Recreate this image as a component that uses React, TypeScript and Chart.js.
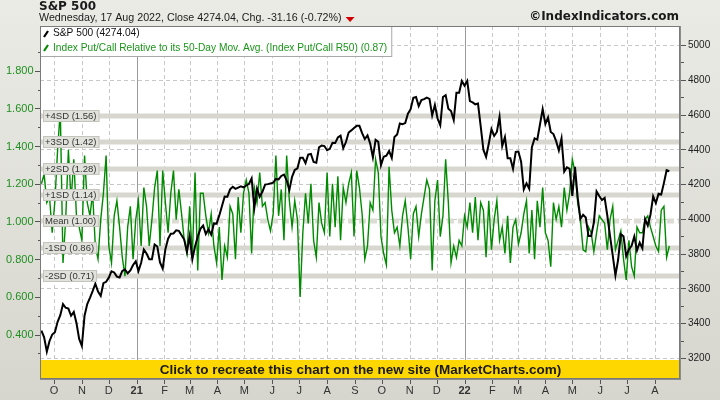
import React, { useEffect, useRef } from 'react';
import { Chart, registerables } from 'chart.js';

Chart.register(...registerables);

// Sampled every SAMPLE_STEP_DAYS calendar days starting at SAMPLE_START
const SAMPLE_START = '2020-09-17';
const SAMPLE_STEP_DAYS = 3;

const spx = [
  3357, 3319, 3237, 3298, 3335, 3348, 3408, 3446, 3510, 3489,
  3484, 3443, 3465, 3401, 3310, 3270, 3443, 3510, 3546, 3585,
  3627, 3582, 3557, 3630, 3638, 3662, 3699, 3692, 3668, 3663,
  3701, 3709, 3687, 3703, 3735, 3756, 3700, 3748, 3824, 3801,
  3768, 3768, 3853, 3841, 3750, 3714, 3826, 3886, 3915, 3916,
  3934, 3931, 3906, 3881, 3811, 3901, 3768, 3842, 3898, 3943,
  3962, 3913, 3940, 3909, 3974, 3973, 4020, 4074, 4129, 4128,
  4170, 4185, 4173, 4180, 4187, 4181, 4192, 4201, 4233, 4063,
  4174, 4127, 4156, 4197, 4200, 4204, 4208, 4230, 4227, 4247,
  4255, 4222, 4166, 4242, 4281, 4291, 4352, 4352, 4321, 4370,
  4374, 4327, 4323, 4411, 4422, 4419, 4395, 4403, 4437, 4436,
  4468, 4479, 4406, 4442, 4497, 4509, 4523, 4535, 4535, 4493,
  4459, 4480, 4433, 4354, 4455, 4443, 4308, 4357, 4363, 4391,
  4351, 4471, 4486, 4549, 4545, 4551, 4605, 4631, 4697, 4701,
  4649, 4683, 4689, 4698, 4690, 4595, 4655, 4577, 4538, 4701,
  4712, 4634, 4620, 4568, 4726, 4726, 4793, 4766, 4794, 4677,
  4670, 4659, 4663, 4533, 4398, 4357, 4432, 4516, 4477, 4500,
  4587, 4419, 4471, 4349, 4349, 4288, 4385, 4387, 4329, 4170,
  4204, 4173, 4412, 4463, 4456, 4543, 4631, 4546, 4583, 4500,
  4488, 4447, 4393, 4463, 4272, 4297, 4288, 4132, 4300, 4123,
  4001, 4023, 4008, 3901, 3901, 3979, 4158, 4132, 4109, 4121,
  4018, 3901, 3790, 3675, 3765, 3912, 3900, 3785, 3825, 3845,
  3899, 3819, 3863, 3831, 3999, 3962, 4024, 4130, 4091, 4145,
  4140, 4207, 4280, 4274,
];

const putCallR50 = [
  1.20, 1.25, 1.10, 1.13, 0.94, 1.11, 1.38, 1.59, 0.78, 1.01,
  1.38, 1.11, 1.33, 1.03, 0.97, 0.90, 1.35, 1.10, 1.03, 1.15,
  0.87, 0.80, 1.01, 1.15, 1.35, 0.87, 0.78, 1.03, 1.11, 0.97,
  0.81, 0.71, 0.97, 1.08, 0.80, 1.01, 1.11, 0.87, 1.18, 1.08,
  0.87, 1.01, 1.18, 1.27, 0.87, 1.27, 1.10, 0.94, 1.15, 1.27,
  1.01, 1.17, 1.04, 0.90, 0.83, 1.08, 0.81, 1.26, 0.74, 1.15,
  1.15, 1.03, 0.94, 1.04, 0.87, 0.78, 0.97, 0.69, 0.87, 0.81,
  1.08, 1.04, 0.80, 1.13, 0.94, 1.15, 1.22, 1.15, 0.83, 1.18,
  1.10, 1.26, 1.08, 1.10, 1.01, 0.95, 1.04, 1.35, 1.03, 1.17,
  0.90, 1.35, 1.11, 0.97, 1.11, 1.01, 0.60, 0.94, 1.15, 0.99,
  1.20, 0.90, 0.81, 1.10, 0.99, 0.94, 1.26, 0.92, 1.20, 0.97,
  1.24, 0.90, 1.18, 1.10, 1.20, 1.26, 0.92, 1.27, 1.18,
  1.04, 0.80, 0.87, 1.10, 1.06, 1.33, 1.26, 0.92, 0.83, 0.77,
  1.29, 1.06, 0.94, 0.97, 0.87, 1.03, 1.11, 0.97, 0.80, 1.04,
  1.08, 0.92, 1.04, 1.13, 1.22, 1.17, 0.74, 1.11, 1.22, 0.92,
  1.03, 1.33, 1.10, 0.78, 0.87, 0.81, 0.90, 0.87, 1.03, 0.97,
  1.10, 0.94, 1.13, 0.90, 1.10, 1.06, 0.81, 1.11, 0.85, 1.01,
  1.11, 0.90, 0.97, 0.83, 1.03, 0.78, 0.97, 1.01, 0.88,
  0.94, 1.04, 1.11, 0.83, 1.06, 0.80, 1.11, 0.97, 1.18, 0.94,
  0.90, 0.76, 1.10, 1.01, 1.08, 0.97, 1.18, 1.06, 1.15, 1.33,
  1.26, 1.10, 1.01, 0.85, 0.84, 0.97, 0.94, 0.84, 0.94, 1.03,
  1.01, 0.99, 0.85, 1.01, 1.08, 0.85, 0.90, 0.95, 0.80, 0.69,
  0.90, 0.76, 0.71, 0.97, 0.94, 0.94, 1.01, 1.03, 0.97, 0.92,
  0.87, 0.84, 1.06, 1.08, 0.81, 0.87,
];

const monthStarts = [
  '2020-10-01', '2020-11-01', '2020-12-01', '2021-01-01', '2021-02-01', '2021-03-01',
  '2021-04-01', '2021-05-01', '2021-06-01', '2021-07-01', '2021-08-01', '2021-09-01',
  '2021-10-01', '2021-11-01', '2021-12-01', '2022-01-01', '2022-02-01', '2022-03-01',
  '2022-04-01', '2022-05-01', '2022-06-01', '2022-07-01', '2022-08-01',
];
const monthLabels = ['O', 'N', 'D', '21', 'F', 'M', 'A', 'M', 'J', 'J', 'A', 'S', 'O', 'N', 'D', '22', 'F', 'M', 'A', 'M', 'J', 'J', 'A'];

const leftTicks = [0.4, 0.6, 0.8, 1.0, 1.2, 1.4, 1.6, 1.8];
const leftTickLabels = ['0.400', '0.600', '0.800', '1.000', '1.200', '1.400', '1.600', '1.800'];
const leftMinorTicks = [0.3, 0.5, 0.7, 0.9, 1.1, 1.3, 1.5, 1.7, 1.9];
const rightTicks = [3200, 3400, 3600, 3800, 4000, 4200, 4400, 4600, 4800, 5000];
const rightMinorTicks = [3300, 3500, 3700, 3900, 4100, 4300, 4500, 4700, 4900];

const bandValues = [1.56, 1.42, 1.28, 1.14, 1.0, 0.86, 0.71];
const bandNames = ['+4SD', '+3SD', '+2SD', '+1SD', 'Mean', '-1SD', '-2SD'];

const TITLE = 'S&P 500';
const SUBTITLE = 'Wednesday, 17 Aug 2022, Close 4274.04, Chg. -31.16 (-0.72%)';
const LEGEND_SPX = 'S&P 500 (4274.04)';
const LEGEND_PC = 'Index Put/Call Relative to its 50-Day Mov. Avg. (Index Put/Call R50) (0.87)';
const COPYRIGHT = '©IndexIndicators.com';
const BANNER = 'Click to recreate this chart on the new site (MarketCharts.com)';

const FONT = '"Liberation Sans", Arial, sans-serif';
const BOLD_FONT = '"DejaVu Sans", Verdana, sans-serif';
const GREEN = '#008a00';

function dayOffset(iso: string) {
  return (Date.parse(iso) - Date.parse(SAMPLE_START)) / 86400000;
}

const decorPlugin = {
  id: 'decor',
  beforeDraw(chart: any) {
    const { ctx, chartArea: a, width, height } = chart;
    const xs = chart.scales.x, yl = chart.scales.y, yr = chart.scales.y1;
    ctx.save();
    const g = ctx.createLinearGradient(0, 0, 0, height);
    g.addColorStop(0, '#ebebe6');
    g.addColorStop(1, '#d6d6ce');
    ctx.fillStyle = g;
    ctx.fillRect(0, 0, width, height);
    ctx.fillStyle = '#ffffff';
    ctx.fillRect(a.left, a.top, a.right - a.left, a.bottom - a.top);
    ctx.beginPath();
    ctx.rect(a.left, a.top, a.right - a.left, a.bottom - a.top);
    ctx.clip();
    ctx.lineWidth = 1;
    ctx.strokeStyle = '#c8c8c8';
    ctx.setLineDash([4, 3]);
    rightTicks.forEach((v) => {
      const y = Math.round(yr.getPixelForValue(v)) + 0.5;
      ctx.beginPath();
      ctx.moveTo(a.left, y);
      ctx.lineTo(a.right, y);
      ctx.stroke();
    });
    monthStarts.forEach((m, i) => {
      const x = Math.round(xs.getPixelForValue(dayOffset(m))) + 0.5;
      const isYear = /^\d+$/.test(monthLabels[i]);
      ctx.setLineDash(isYear ? [] : [4, 3]);
      ctx.strokeStyle = isYear ? '#9a9a9a' : '#c8c8c8';
      ctx.beginPath();
      ctx.moveTo(x, a.top);
      ctx.lineTo(x, a.bottom);
      ctx.stroke();
    });
    ctx.lineWidth = 5;
    bandValues.forEach((v, i) => {
      const y = Math.round(yl.getPixelForValue(v));
      const mean = bandNames[i] === 'Mean';
      ctx.setLineDash(mean ? [7, 4] : []);
      ctx.strokeStyle = mean ? '#dcdcd5' : '#d7d7cf';
      ctx.beginPath();
      ctx.moveTo(a.left, y);
      ctx.lineTo(a.right, y);
      ctx.stroke();
    });
    ctx.restore();
  },
  afterDatasetsDraw(chart: any) {
    const { ctx, chartArea: a } = chart;
    const xs = chart.scales.x, yl = chart.scales.y, yr = chart.scales.y1;
    ctx.save();
    ctx.setLineDash([]);

    // banner
    ctx.fillStyle = '#ffd700';
    ctx.fillRect(a.left, a.bottom - 20, a.right - a.left, 20);
    ctx.fillStyle = '#1a1a1a';
    ctx.font = `bold 13.5px ${FONT}`;
    ctx.textAlign = 'center';
    ctx.textBaseline = 'middle';
    ctx.fillText(BANNER, (a.left + a.right) / 2, a.bottom - 10);

    // band labels
    ctx.font = `9.5px ${FONT}`;
    ctx.textAlign = 'left';
    bandValues.forEach((v, i) => {
      const y = Math.round(yl.getPixelForValue(v));
      const t = `${bandNames[i]} (${v.toFixed(2)})`;
      const w = ctx.measureText(t).width;
      ctx.fillStyle = '#e2e2dc';
      ctx.fillRect(a.left + 3, y - 6, w + 5, 12);
      ctx.strokeStyle = '#c4c4bc';
      ctx.lineWidth = 1;
      ctx.strokeRect(a.left + 3.5, y - 5.5, w + 4, 11);
      ctx.fillStyle = '#333333';
      ctx.fillText(t, a.left + 5, y + 0.5);
    });

    // legend
    ctx.font = `10.2px ${FONT}`;
    const lw = Math.max(ctx.measureText(LEGEND_SPX).width, ctx.measureText(LEGEND_PC).width);
    ctx.fillStyle = '#ffffff';
    ctx.fillRect(a.left, a.top, lw + 18, 31);
    ctx.strokeStyle = '#a8a8a8';
    ctx.lineWidth = 1;
    ctx.strokeRect(a.left + 0.5, a.top + 0.5, lw + 17, 30);
    ctx.lineWidth = 2.2;
    ctx.strokeStyle = '#000000';
    ctx.beginPath();
    ctx.moveTo(a.left + 4, a.top + 11);
    ctx.lineTo(a.left + 8, a.top + 5);
    ctx.stroke();
    ctx.strokeStyle = GREEN;
    ctx.beginPath();
    ctx.moveTo(a.left + 4, a.top + 25);
    ctx.lineTo(a.left + 8, a.top + 19);
    ctx.stroke();
    ctx.fillStyle = '#111111';
    ctx.fillText(LEGEND_SPX, a.left + 13, a.top + 7.5);
    ctx.fillStyle = '#1a961a';
    ctx.fillText(LEGEND_PC, a.left + 13, a.top + 22);

    // frame
    ctx.lineWidth = 1;
    ctx.strokeStyle = '#7a7a7a';
    ctx.strokeRect(a.left + 0.5, a.top + 0.5, a.right - a.left - 2, a.bottom - a.top - 2);
    ctx.strokeStyle = '#8c8c8c';
    ctx.beginPath();
    ctx.moveTo(a.right - 0.5, a.top);
    ctx.lineTo(a.right - 0.5, a.bottom);
    ctx.moveTo(a.left, a.bottom - 0.5);
    ctx.lineTo(a.right, a.bottom - 0.5);
    ctx.stroke();

    // left axis
    ctx.strokeStyle = '#555555';
    ctx.beginPath();
    leftTicks.forEach((v) => {
      const y = Math.round(yl.getPixelForValue(v)) + 0.5;
      ctx.moveTo(a.left - 5, y);
      ctx.lineTo(a.left, y);
    });
    leftMinorTicks.forEach((v) => {
      const y = Math.round(yl.getPixelForValue(v)) + 0.5;
      ctx.moveTo(a.left - 2, y);
      ctx.lineTo(a.left, y);
    });
    // right axis
    rightTicks.forEach((v) => {
      const y = Math.round(yr.getPixelForValue(v)) + 0.5;
      ctx.moveTo(a.right, y);
      ctx.lineTo(a.right + 5, y);
    });
    rightMinorTicks.forEach((v) => {
      const y = Math.round(yr.getPixelForValue(v)) + 0.5;
      ctx.moveTo(a.right, y);
      ctx.lineTo(a.right + 3, y);
    });
    // bottom axis
    monthStarts.forEach((m) => {
      const x = Math.round(xs.getPixelForValue(dayOffset(m))) + 0.5;
      ctx.moveTo(x, a.bottom);
      ctx.lineTo(x, a.bottom + 4);
    });
    ctx.stroke();

    ctx.font = `11px ${FONT}`;
    ctx.textAlign = 'right';
    ctx.fillStyle = '#1f8f1f';
    leftTicks.forEach((v, i) => {
      ctx.fillText(leftTickLabels[i], a.left - 6.5, yl.getPixelForValue(v) + 0.5);
    });
    ctx.font = `10px ${FONT}`;
    ctx.textAlign = 'left';
    ctx.fillStyle = '#222222';
    rightTicks.forEach((v) => {
      ctx.fillText(String(v), a.right + 7, yr.getPixelForValue(v) + 0.5);
    });
    ctx.textAlign = 'center';
    ctx.fillStyle = '#333333';
    monthStarts.forEach((m, i) => {
      const isYear = /^\d+$/.test(monthLabels[i]);
      ctx.font = `${isYear ? 'bold ' : ''}11px ${FONT}`;
      ctx.fillText(monthLabels[i], xs.getPixelForValue(dayOffset(m)), a.bottom + 11);
    });

    // titles
    ctx.textAlign = 'left';
    ctx.fillStyle = '#1a1a1a';
    ctx.font = `bold 12px ${BOLD_FONT}`;
    ctx.fillText(TITLE, 39, 7);
    ctx.font = `10.7px ${FONT}`;
    ctx.fillText(SUBTITLE, 39, 18.5);
    const sw = ctx.measureText(SUBTITLE).width;
    const tx = 39 + sw + 4;
    ctx.fillStyle = '#d40000';
    ctx.beginPath();
    ctx.moveTo(tx, 17);
    ctx.lineTo(tx + 9, 17);
    ctx.lineTo(tx + 4.5, 22);
    ctx.closePath();
    ctx.fill();
    ctx.fillStyle = '#1a1a1a';
    ctx.font = `bold 12px ${BOLD_FONT}`;
    ctx.textAlign = 'right';
    ctx.fillText(COPYRIGHT, 679, 17);

    ctx.restore();
  },
};

export default function App() {
  const ref = useRef<HTMLCanvasElement>(null);
  useEffect(() => {
    document.body.style.margin = '0';
    const canvas = ref.current;
    if (!canvas) return;
    const chart = new Chart(canvas, {
      type: 'line',
      data: {
        datasets: [
          {
            label: 'S&P 500',
            data: spx.map((v, i) => ({ x: i * SAMPLE_STEP_DAYS, y: v })),
            yAxisID: 'y1',
            borderColor: '#000000',
            borderWidth: 2,
            pointRadius: 0,
            tension: 0,
          },
          {
            label: 'Index Put/Call R50',
            data: putCallR50.map((v, i) => ({ x: i * SAMPLE_STEP_DAYS, y: v })),
            yAxisID: 'y',
            borderColor: GREEN,
            borderWidth: 1.4,
            pointRadius: 0,
            tension: 0,
          },
        ],
      },
      options: {
        animation: false,
        responsive: false,
        devicePixelRatio: 1,
        events: [],
        layout: { padding: { top: 26, left: 0, right: 0, bottom: 0 }, autoPadding: false },
        plugins: { legend: { display: false }, tooltip: { enabled: false }, title: { display: false } },
        scales: {
          x: {
            type: 'linear',
            min: -1.6,
            max: 712,
            ticks: { display: false },
            grid: { display: false },
            border: { display: false },
            afterFit: (s: any) => { s.height = 20; },
          },
          y: {
            type: 'linear',
            position: 'left',
            min: 0.159,
            max: 2.037,
            ticks: { display: false },
            grid: { display: false },
            border: { display: false },
            afterFit: (s: any) => { s.width = 40; },
          },
          y1: {
            type: 'linear',
            position: 'right',
            min: 3073.5,
            max: 5109.3,
            ticks: { display: false },
            grid: { display: false },
            border: { display: false },
            afterFit: (s: any) => { s.width = 39; },
          },
        },
      } as any,
      plugins: [decorPlugin],
    });
    return () => chart.destroy();
  }, []);
  return (
    <div style={{ width: 720, height: 400 }}>
      <canvas ref={ref} width={720} height={400} style={{ display: 'block' }} />
    </div>
  );
}
